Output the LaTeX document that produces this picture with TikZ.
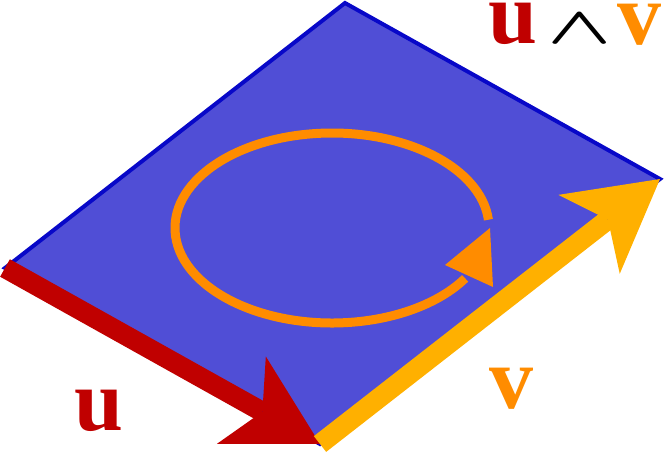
\RequirePackage{fix-cm}
\documentclass[tikz,border=0pt]{standalone}
\usepackage{fontspec}
\setmainfont{Liberation Serif}
\usetikzlibrary{calc}
\definecolor{planefill}{RGB}{80,78,214}
\definecolor{planeedge}{RGB}{8,8,200}
\definecolor{ured}{RGB}{192,0,0}
\definecolor{vyellow}{RGB}{255,176,0}
\definecolor{vorange}{RGB}{255,140,0}
\tikzset{
  plane/.style={fill=planefill, draw=planeedge, line width=4pt, line join=miter},
  lbl/.style={inner sep=0pt, font=\fontsize{88}{88}\selectfont\bfseries},
  circ/.style={draw=vorange, line width=9pt},
}
\newcommand{\fatarrow}[3]{% from, to, colour
  \coordinate (M) at ($(#2)!90pt!(#1)$);
  \coordinate (N) at ($(#2)!66pt!(#1)$);
  \draw[#3, line width=20pt] (#1) -- (N);
  \fill[#3] (#2) -- ($(M)!50pt!90:(#2)$) -- (N) -- ($(M)!50pt!-90:(#2)$) -- cycle;
}
\begin{document}
\begin{tikzpicture}[x=1pt, y=-1pt]
\useasboundingbox (0,0) rectangle (665,453);
\coordinate (A) at (5,268);
\coordinate (B) at (320,444);
\coordinate (C) at (660,179);
\coordinate (D) at (345,3);
\coordinate (E) at (332,228);
% plane
\path[plane] (A) -- (B) -- (C) -- (D) -- cycle;
% circulation
\draw[circ] ([shift={(-5:157 and 95)}]E) arc[start angle=-5, end angle=-328, x radius=157, y radius=95];
\coordinate (h1) at (490,228);
\coordinate (h2) at (445,265);
\coordinate (h3) at (493,287);
\fill[vorange] (h1) -- (h2) -- (h3) -- cycle;
% vectors
\fatarrow{A}{B}{ured}
\fatarrow{B}{C}{vyellow}
% labels
\node[lbl, text=ured] (lu) at (99,411) {u};
\node[lbl, text=vorange] (lv) at (511,389) {v};
\node[lbl, text=ured] (tu) at (512.5,24) {u};
\node[inner sep=0pt] (tw) at (580,29) {\scalebox{1}[0.62]{\fontsize{84}{84}\selectfont\boldmath$\wedge$}};
\node[lbl, text=vorange] (tv) at (639.5,25) {v};
\end{tikzpicture}
\end{document}
